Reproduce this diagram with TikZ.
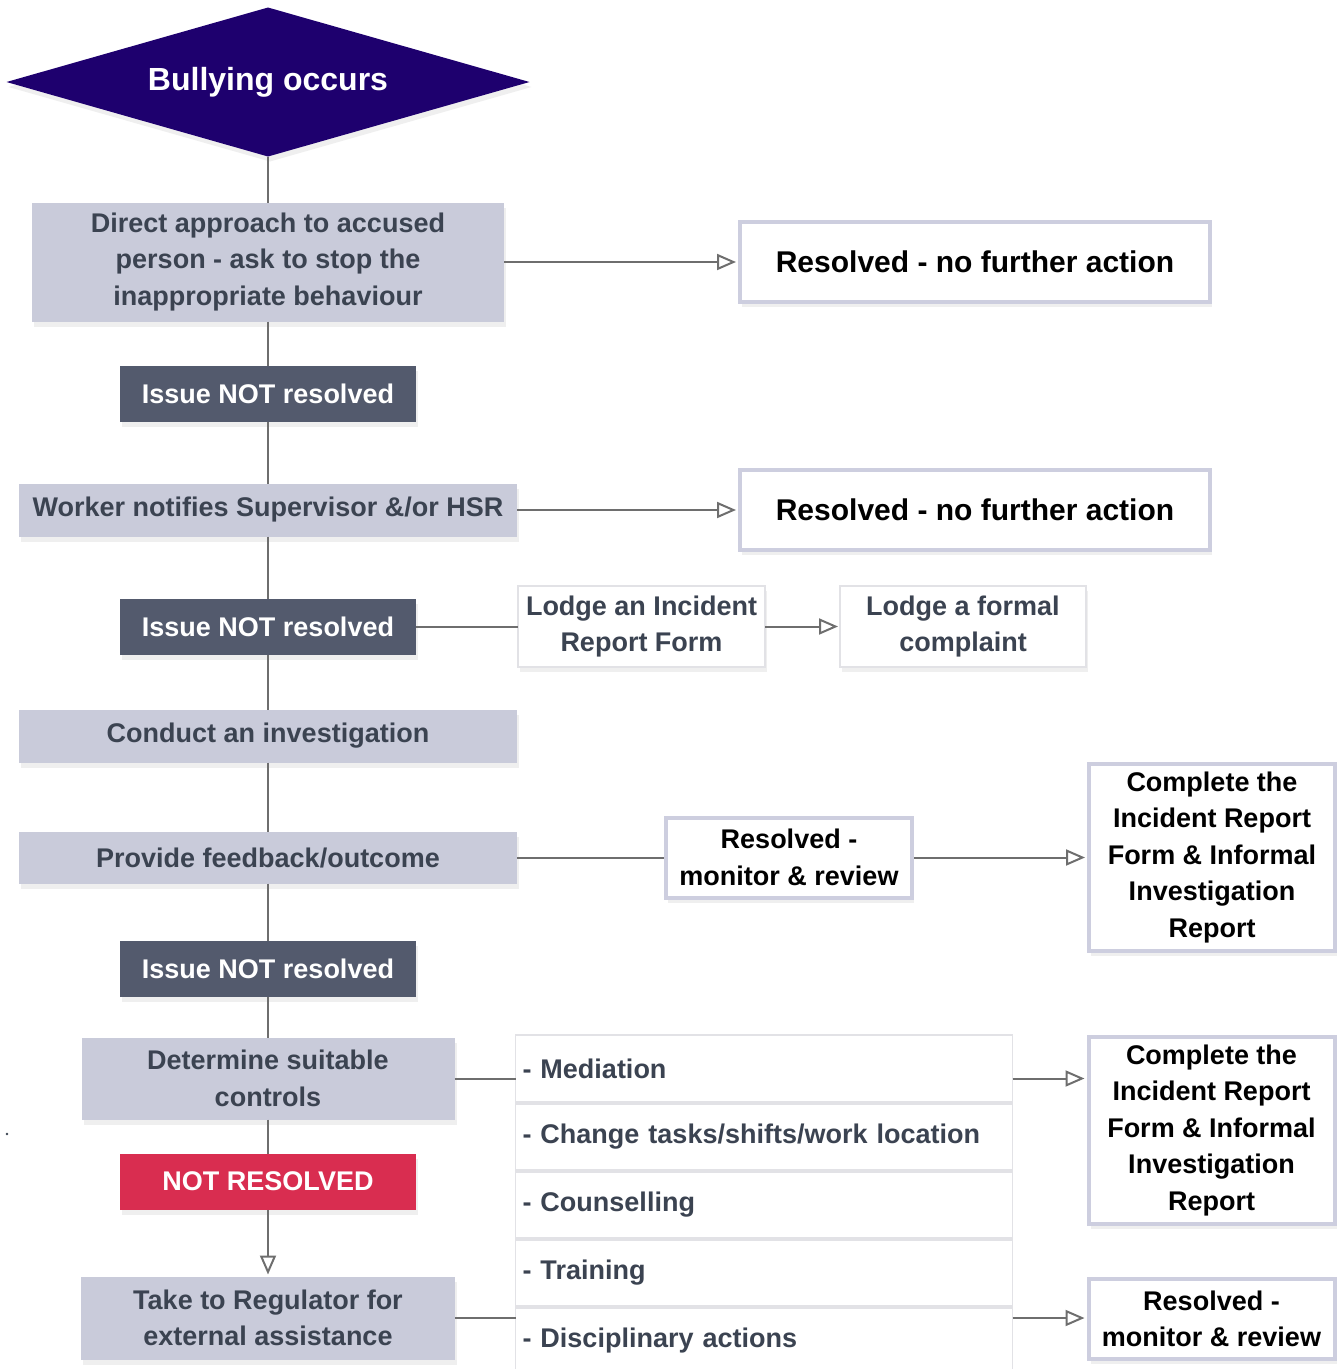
\documentclass[tikz,border=0pt]{standalone}
\usepackage{fontspec}
\setmainfont{Liberation Sans}
\usepackage{tikz}
\usetikzlibrary{shapes.geometric, arrows.meta, positioning, shadows}

\definecolor{navy}{HTML}{1E006E}
\definecolor{boxgrey}{HTML}{C9CBDA}
\definecolor{slate}{HTML}{3B4351}
\definecolor{issuegrey}{HTML}{535A6D}
\definecolor{alertred}{HTML}{D92D50}
\definecolor{lavender}{HTML}{CDCEDF}
\definecolor{edgegrey}{HTML}{E2E2E6}
\definecolor{linegrey}{HTML}{6E6E6E}

\begin{document}
\begin{tikzpicture}[
    x=1pt, y=1pt,
    every node/.style={inner sep=0pt, outer sep=0pt, align=center, font=\fontsize{27}{36.5}\selectfont\bfseries},
    softshadow/.style={drop shadow={opacity=0.13, shadow xshift=2pt, shadow yshift=-5pt}},
    start/.style={diamond, aspect=3.5, minimum width=523pt, minimum height=149pt, fill=navy, text=white, softshadow, font=\fontsize{32}{38}\selectfont\bfseries},
    greybox/.style={rectangle, fill=boxgrey, text=slate, softshadow},
    issuebox/.style={rectangle, minimum width=296pt, minimum height=56pt, fill=issuegrey, text=white, softshadow},
    alertbox/.style={rectangle, minimum width=296pt, minimum height=56pt, fill=alertred, text=white, softshadow},
    resultbox/.style={rectangle, draw=lavender, line width=4pt, outer sep=2pt, fill=white, text=black, softshadow},
    lodgebox/.style={rectangle, minimum width=247pt, minimum height=81pt, draw=edgegrey, line width=1.5pt, fill=white, text=slate, softshadow},
    listbox/.style={rectangle, minimum width=497pt, minimum height=66pt, text width=483pt, inner xsep=7pt, align=left, draw=edgegrey, line width=1.5pt, fill=white, text=slate},
    link/.style={draw=linegrey, line width=2pt},
    arrow/.style={link, -{Triangle[open, length=19pt, width=16pt]}, shorten >=2pt}
]
\useasboundingbox (0,0) rectangle (1341,-1369);
\clip (0,0) rectangle (1341,-1369);

% Nodes
\node (start) [start] at (268,-82) {Bullying occurs};
\node (approach) [greybox, minimum width=472pt, minimum height=119pt, below=46pt of start] {Direct approach to accused\\person - ask to stop the\\inappropriate behaviour};
\node (issue1) [issuebox, below=44pt of approach] {Issue NOT resolved};
\node (notify) [greybox, minimum width=498pt, minimum height=53pt, below=62pt of issue1] {Worker notifies Supervisor \&/or HSR};
\node (issue2) [issuebox, below=62pt of notify] {Issue NOT resolved};
\node (investigate) [greybox, minimum width=498pt, minimum height=53pt, below=55pt of issue2] {Conduct an investigation};
\node (feedback) [greybox, minimum width=498pt, minimum height=52pt, below=69pt of investigate] {Provide feedback/outcome};
\node (issue3) [issuebox, below=57pt of feedback] {Issue NOT resolved};
\node (controls) [greybox, minimum width=373pt, minimum height=82pt, below=41pt of issue3] {Determine suitable\\controls};
\node (notres) [alertbox, below=34pt of controls] {NOT RESOLVED};
\node (regulator) [greybox, minimum width=374pt, minimum height=83pt, below=67pt of notres] {Take to Regulator for\\external assistance};

\node (res1) [resultbox, minimum width=470pt, minimum height=80pt, right=234pt of approach, font=\fontsize{30}{36}\selectfont\bfseries] {Resolved - no further action};
\node (res2) [resultbox, minimum width=470pt, minimum height=80pt, right=221pt of notify, font=\fontsize{30}{36}\selectfont\bfseries] {Resolved - no further action};
\node (incident) [lodgebox, right=102pt of issue2] {Lodge an Incident\\Report Form};
\node (complaint) [lodgebox, minimum width=246pt, right=75pt of incident] {Lodge a formal\\complaint};
\node (monitor) [resultbox, minimum width=246pt, minimum height=80pt, right=147pt of feedback] {Resolved -\\monitor \& review};
\node (complete1) [resultbox, minimum width=246pt, minimum height=187pt, right=173pt of monitor] {Complete the\\Incident Report\\Form \& Informal\\Investigation\\Report};

\node (mediation) [listbox, minimum height=67pt, right=61pt of controls, yshift=10pt] {- Mediation};
\node (change) [listbox, below=2pt of mediation] {- Change tasks/shifts/work location};
\node (counselling) [listbox, below=2pt of change] {- Counselling};
\node (training) [listbox, below=2pt of counselling] {- Training};
\node (discipline) [listbox, below=2pt of training] {- Disciplinary actions};

\node (complete2) [resultbox, minimum width=246pt, minimum height=187pt, below right=0pt and 74pt of mediation.north east] {Complete the\\Incident Report\\Form \& Informal\\Investigation\\Report};
\node (monitor2) [resultbox, minimum width=246pt, minimum height=80pt, below=51pt of complete2] {Resolved -\\monitor \& review};

\fill[slate] (7,-1134) circle (1.3pt);

% Arrows
\draw [link] (start) -- (approach);
\draw [link] (approach) -- (issue1);
\draw [link] (issue1) -- (notify);
\draw [link] (notify) -- (issue2);
\draw [link] (issue2) -- (investigate);
\draw [link] (investigate) -- (feedback);
\draw [link] (feedback) -- (issue3);
\draw [link] (issue3) -- (controls);
\draw [link] (controls) -- (notres);
\draw [arrow] (notres) -- (regulator);

\draw [arrow] (approach) -- (res1);
\draw [arrow] (notify) -- (res2);
\draw [link] (issue2) -- (incident);
\draw [arrow] (incident) -- (complaint);
\draw [link] (feedback) -- (monitor);
\draw [arrow] (monitor) -- (complete1);

\draw [link] (controls) -- (controls -| mediation.west);
\draw [arrow] (mediation.east |- controls) -- (complete2.west |- controls);
\draw [link] (regulator) -- (regulator -| discipline.west);
\draw [arrow] (discipline.east |- regulator) -- (monitor2.west |- regulator);

\end{tikzpicture}
\end{document}
